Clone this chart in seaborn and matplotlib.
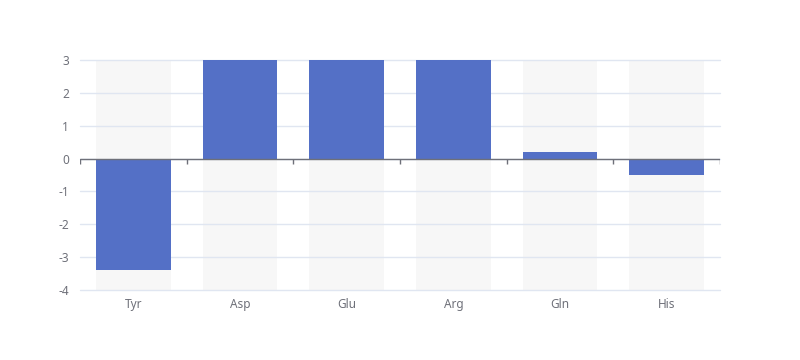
import matplotlib
matplotlib.use("Agg")
import matplotlib.pyplot as plt
import seaborn as sns
import pandas as pd

categories = ["Tyr", "Asp", "Glu", "Arg", "Gln", "His"]
values = [-3.4, 3.0, 3.0, 3.0, 0.2, -0.5]
y_ticks = [-4, -3, -2, -1, 0, 1, 2, 3]

BAR_COLOR = "#5470C6"
AXIS_COLOR = "#6E7079"
GRID_COLOR = "#E0E6F1"
BG_COLOR = "#F7F7F7"

sns.set_style("white")
plt.rcParams["font.family"] = ["Noto Sans", "DejaVu Sans"]
plt.rcParams["axes.unicode_minus"] = False

df = pd.DataFrame({"residue": categories, "value": values})

fig = plt.figure(figsize=(8, 3.6), dpi=100)
ax = fig.add_axes([0.1, 1 - 290 / 360, 0.8, 230 / 360])

# background band behind each category
for i in range(len(categories)):
    ax.axvspan(i - 0.35, i + 0.35, color=BG_COLOR, zorder=0, lw=0)

for t in y_ticks:
    ax.axhline(t, color=GRID_COLOR, lw=1, zorder=1, clip_on=False)

sns.barplot(
    data=df,
    x="residue",
    y="value",
    color=BAR_COLOR,
    saturation=1,
    width=0.7,
    linewidth=0,
    ax=ax,
    zorder=2,
)

ax.axhline(0, color=AXIS_COLOR, lw=1, zorder=3)
bounds = [i - 0.5 for i in range(len(categories) + 1)]
ax.vlines(bounds, 0, -0.15, color=AXIS_COLOR, lw=1, zorder=3)

ax.set_xlim(-0.5, len(categories) - 0.5)
ax.set_ylim(-4, 3)
ax.set_yticks(y_ticks)
ax.set_xlabel("")
ax.set_ylabel("")
for s in ax.spines.values():
    s.set_visible(False)
ax.tick_params(axis="both", length=0, colors=AXIS_COLOR, labelsize=8.5)
ax.tick_params(axis="x", pad=6)
ax.tick_params(axis="y", pad=8)

fig.savefig("out.png", dpi=100)
